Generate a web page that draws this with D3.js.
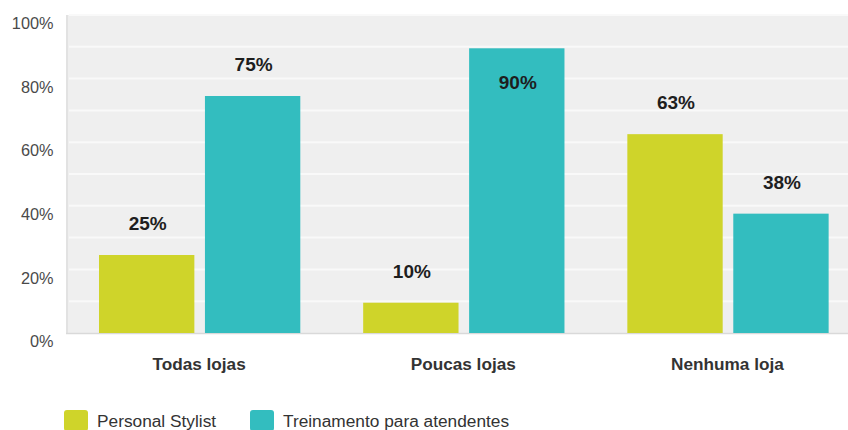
<!DOCTYPE html>
<html>
<head>
<meta charset="utf-8">
<script src="https://cdn.jsdelivr.net/npm/d3@7"></script>
<style>
  html, body { margin: 0; padding: 0; background: #fff; }
  svg { display: block; font-family: "Liberation Sans", Arial, sans-serif; }
</style>
</head>
<body>
<svg id="chart" width="848" height="430"></svg>
<script>
// Survey results: share of stores offering each service
const categories = ["Todas lojas", "Poucas lojas", "Nenhuma loja"];
const seriesNames = ["Personal Stylist", "Treinamento para atendentes"];
const personalStylist = [25, 10, 63];
const treinamento = [75, 90, 38];
const yTicks = [0, 20, 40, 60, 80, 100];
const gridTicks = [10, 20, 30, 40, 50, 60, 70, 80, 90, 100];
const colors = ["#cfd42a", "#33bdbf"];

const seriesValues = [personalStylist, treinamento];

const svg = d3.select("#chart");
const plot = { left: 66, top: 15, right: 848, bottom: 333 };

const y = d3.scaleLinear().domain([0, 100]).range([plot.bottom, plot.top]);
const x0 = d3.scaleBand().domain(categories).range([plot.left, 858.5]);
const x1 = d3.scaleBand().domain(seriesNames).range([33, 234.3]).paddingInner(0.1);

// plot background
svg.append("rect")
  .attr("x", plot.left).attr("y", plot.top)
  .attr("width", plot.right - plot.left).attr("height", plot.bottom - plot.top)
  .attr("fill", "#efefef");

// left shadow edge
svg.append("rect")
  .attr("x", plot.left).attr("y", plot.top)
  .attr("width", 2).attr("height", plot.bottom - plot.top)
  .attr("fill", "#e2e2e2");

// horizontal gridlines
svg.append("g")
  .selectAll("line")
  .data(gridTicks)
  .join("line")
  .attr("x1", plot.left + 3).attr("x2", plot.right)
  .attr("y1", d => y(d)).attr("y2", d => y(d))
  .attr("stroke", "#f9f9f9")
  .attr("stroke-width", 2);

// baseline
svg.append("line")
  .attr("x1", plot.left).attr("x2", plot.right)
  .attr("y1", plot.bottom + 0.5).attr("y2", plot.bottom + 0.5)
  .attr("stroke", "#d9d9d9").attr("stroke-width", 1.5);

// y-axis labels (sit just below their gridline)
const yAxis = d3.axisLeft(y).tickValues(yTicks).tickFormat(d => d + "%").tickSize(0).tickPadding(0);
const yg = svg.append("g").attr("transform", `translate(53.5,0)`).call(yAxis);
yg.select(".domain").remove();
yg.selectAll("text")
  .attr("dy", "13.7")
  .attr("fill", "#4a4a4a")
  .style("font-size", "16.3px")
  .style("font-family", "'Liberation Sans', Arial, sans-serif");

// bars
const groups = svg.append("g")
  .selectAll("g")
  .data(categories)
  .join("g")
  .attr("transform", c => `translate(${x0(c)},0)`);

const barData = (c, i) => seriesNames.map((s, k) => ({ series: s, k, value: seriesValues[k][i] }));

groups.selectAll("rect")
  .data(barData)
  .join("rect")
  .attr("x", d => x1(d.series))
  .attr("y", d => y(d.value) + 1.5)
  .attr("width", x1.bandwidth())
  .attr("height", d => plot.bottom - y(d.value) - 1.5)
  .attr("fill", d => colors[d.k]);

// value labels: above the bar, or inside when there is no room
groups.selectAll("text.value")
  .data(barData)
  .join("text")
  .attr("class", "value")
  .attr("x", d => x1(d.series) + x1.bandwidth() / 2 + 1)
  .attr("y", d => {
    const top = y(d.value) + 1.5;
    return (top - 40 < plot.top) ? top + 41 : top - 25;
  })
  .attr("text-anchor", "middle")
  .attr("fill", "#1e1e1e")
  .style("font-size", "19px")
  .style("font-weight", "bold")
  .text(d => d.value + "%");

// category labels
const xAxis = d3.axisBottom(x0).tickSize(0).tickPadding(0);
const xg = svg.append("g").attr("transform", `translate(0,${plot.bottom})`).call(xAxis);
xg.select(".domain").remove();
xg.selectAll("text")
  .attr("y", 0).attr("dy", "37")
  .attr("transform", "translate(1,0)")
  .attr("fill", "#333")
  .style("font-size", "17.2px")
  .style("font-weight", "bold")
  .style("font-family", "'Liberation Sans', Arial, sans-serif");

// legend
const legendX = [64, 250];
const legend = svg.append("g")
  .selectAll("g")
  .data(seriesNames)
  .join("g")
  .attr("transform", (d, i) => `translate(${legendX[i]},410)`);
legend.append("rect")
  .attr("width", 24).attr("height", 21).attr("rx", 3)
  .attr("fill", (d, i) => colors[i]);
legend.append("text")
  .attr("x", 33).attr("y", 16.5)
  .attr("fill", "#333")
  .style("font-size", "17.3px")
  .text(d => d);
</script>
</body>
</html>
